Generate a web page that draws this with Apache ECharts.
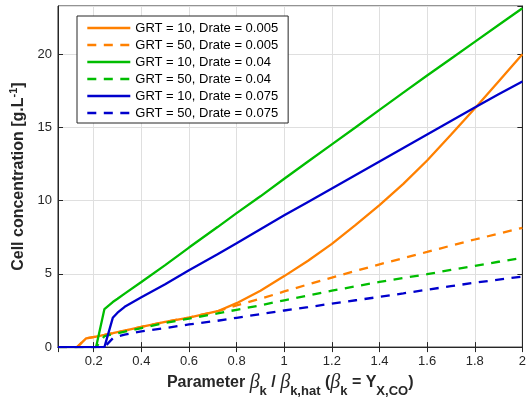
<!DOCTYPE html>
<html>
<head>
<meta charset="utf-8">
<script src="https://cdn.jsdelivr.net/npm/echarts@6/dist/echarts.min.js"></script>
<style>
  html, body { margin: 0; padding: 0; background: #fff; }
  #chart { width: 529px; height: 403px; }
</style>
</head>
<body>
<div id="chart"></div>
<script>
// x positions (beta_k / beta_k,hat) shared by every curve
var xs = [0.05, 0.13, 0.168, 0.21, 0.245, 0.25, 0.28, 0.3, 0.33, 0.4, 0.5, 0.6, 0.72, 0.8, 0.9,
          1.0, 1.1, 1.2, 1.3, 1.4, 1.5, 1.6, 1.7, 1.8, 1.9, 2.0];

var grt10_d005 = [0, 0, 0.6, 0.72, 0.83, 0.85, 0.95, 1.02, 1.12, 1.38, 1.72, 2.02, 2.45, 3.0, 3.85,
                  4.85, 5.9, 7.05, 8.35, 9.7, 11.15, 12.75, 14.5, 16.3, 18.15, 20.0];
var grt50_d005 = [0, 0, 0.6, 0.72, 0.83, 0.85, 0.95, 1.02, 1.12, 1.38, 1.72, 2.02, 2.45, 2.85, 3.3,
                  3.8, 4.28, 4.75, 5.2, 5.65, 6.08, 6.5, 6.93, 7.35, 7.75, 8.15];
var grt10_d04  = [0, 0, 0, 0, 2.6, 2.72, 3.08, 3.3, 3.65, 4.45, 5.6, 6.8, 8.2, 9.15, 10.3,
                  11.5, 12.68, 13.85, 15.02, 16.2, 17.38, 18.55, 19.7, 20.85, 22.0, 23.15];
var grt50_d04  = [0, 0, 0, 0, 0.75, 0.77, 0.88, 0.95, 1.05, 1.3, 1.65, 1.95, 2.3, 2.55, 2.85,
                  3.2, 3.52, 3.85, 4.15, 4.45, 4.72, 4.98, 5.27, 5.55, 5.83, 6.1];
var grt10_d075 = [0, 0, 0, 0, 0, 0, 2.0, 2.35, 2.75, 3.4, 4.3, 5.25, 6.35, 7.1, 8.05,
                  9.0, 9.92, 10.84, 11.76, 12.68, 13.6, 14.52, 15.44, 16.36, 17.27, 18.15];
var grt50_d075 = [0, 0, 0, 0, 0, 0, 0.6, 0.72, 0.85, 1.08, 1.3, 1.55, 1.8, 2.0, 2.25,
                  2.5, 2.73, 2.97, 3.2, 3.43, 3.67, 3.92, 4.16, 4.4, 4.61, 4.82];

var names = ['GRT = 10, Drate = 0.005', 'GRT = 50, Drate = 0.005', 'GRT = 10, Drate = 0.04',
             'GRT = 50, Drate = 0.04', 'GRT = 10, Drate = 0.075', 'GRT = 50, Drate = 0.075'];
var values = [grt10_d005, grt50_d005, grt10_d04, grt50_d04, grt10_d075, grt50_d075];
var colors = ['#ff8000', '#ff8000', '#00bd00', '#00bd00', '#0000cc', '#0000cc'];

var font = 'Liberation Sans, Arial, sans-serif';
var dark = '#262626';

function pairs(ys) {
  return xs.map(function (x, i) { return [x, ys[i]]; });
}

var series = names.map(function (n, i) {
  return {
    name: n,
    type: 'line',
    symbol: 'none',
    data: pairs(values[i]),
    lineStyle: { color: colors[i], width: 2.3, type: i % 2 ? [9, 7.5] : 'solid' },
    itemStyle: { color: colors[i] },
    animation: false
  };
});

var myChart = echarts.init(document.getElementById('chart'));

var xBase = {
  type: 'value', min: 0.05, max: 2, splitNumber: 10,
  axisLine: { show: true, lineStyle: { color: dark } },
  axisTick: { show: true, inside: true, length: 5, lineStyle: { color: dark } }
};
var yBase = {
  type: 'value', min: 0, max: 23.3, splitNumber: 5,
  axisLine: { show: true, lineStyle: { color: dark } },
  axisTick: { show: true, inside: true, length: 5, lineStyle: { color: dark } }
};

var greek = { fontFamily: 'Liberation Serif, serif', fontStyle: 'italic', fontSize: 20, color: dark, lineHeight: 30 };
var subStyle = { fontFamily: font, fontWeight: 'bold', fontSize: 13, color: dark, verticalAlign: 'bottom', lineHeight: 30 };

option = {
  color: colors,
  grid: { left: 58, right: 2, top: 6, bottom: 55, show: true, borderColor: dark, borderWidth: 1 },
  legend: {
    orient: 'vertical', left: 77, top: 16,
    padding: [5, 10, 3, 9],
    itemWidth: 43, itemHeight: 14, itemGap: 3,
    backgroundColor: '#fff', borderColor: dark, borderWidth: 1,
    itemStyle: { opacity: 0 },
    lineStyle: { width: 2.6 },
    textStyle: { fontFamily: font, fontSize: 13, color: '#000', lineHeight: 14 },
    data: names
  },
  xAxis: [
    Object.assign({}, xBase, {
      position: 'bottom',
      axisLabel: { fontFamily: font, fontSize: 13, color: dark, margin: 8, showMinLabel: false },
      splitLine: { show: true, lineStyle: { color: '#dfdfdf' } },
      name: '{b|Parameter }{i|β}{s|k}{b| / }{i|β}{s|k,hat}{b| (}{i|β}{s|k}{b| = Y}{s|X,CO}{b|)}',
      nameLocation: 'middle', nameGap: 20,
      nameTextStyle: {
        rich: {
          b: { fontFamily: font, fontWeight: 'bold', fontSize: 16, color: dark, lineHeight: 30 },
          i: greek,
          s: subStyle
        }
      }
    }),
    Object.assign({}, xBase, { position: 'top', axisLabel: { show: false }, splitLine: { show: false } })
  ],
  yAxis: [
    Object.assign({}, yBase, {
      position: 'left',
      axisLabel: { fontFamily: font, fontSize: 13, color: dark, margin: 6, showMaxLabel: false },
      splitLine: { show: true, lineStyle: { color: '#dfdfdf' } },
      name: '{b|Cell concentration [g.L}{sup|-1}{b|]}',
      nameLocation: 'middle', nameGap: 25,
      nameTextStyle: {
        rich: {
          b: { fontFamily: font, fontWeight: 'bold', fontSize: 16, color: dark, lineHeight: 20 },
          sup: { fontFamily: font, fontWeight: 'bold', fontSize: 11, color: dark, verticalAlign: 'top', lineHeight: 20 }
        }
      }
    }),
    Object.assign({}, yBase, { position: 'right', axisLabel: { show: false }, splitLine: { show: false } })
  ],
  series: series
};

option && myChart.setOption(option);
</script>
</body>
</html>
